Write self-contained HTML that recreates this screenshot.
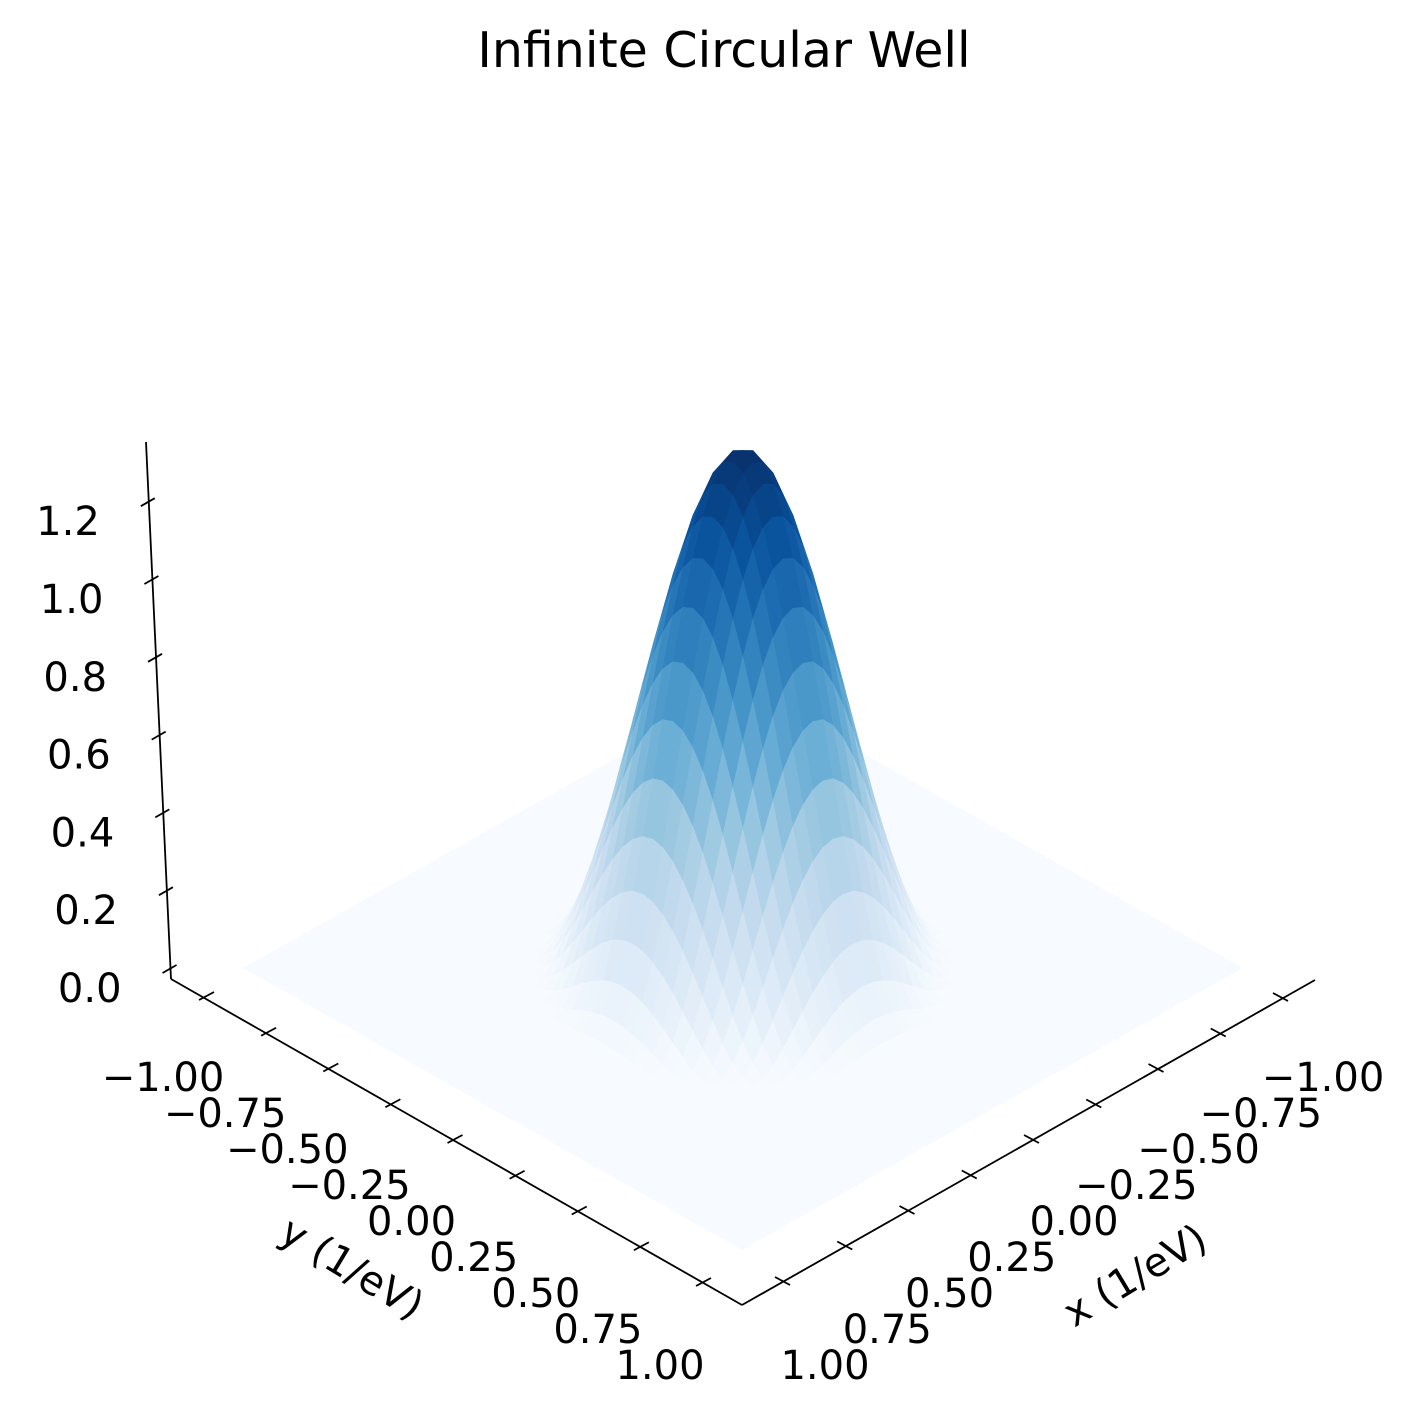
<!DOCTYPE html>
<html><head><meta charset="utf-8"><style>
html,body{margin:0;padding:0;background:#fff}
svg text{font-family:"DejaVu Sans","Liberation Sans",sans-serif;fill:#000}
</style></head><body>
<svg id="chart" width="1415" height="1420" viewBox="0 0 1415 1420" xmlns="http://www.w3.org/2000/svg">
<text x="724" y="67" font-size="49" text-anchor="middle">Infinite Circular Well</text>
<g id="floor"></g>
<g id="surf"></g>
<g id="axes"></g>
<text font-size="40" text-anchor="middle" transform="translate(345,1280) rotate(31)">y (1/eV)</text>
<text font-size="40" text-anchor="middle" transform="translate(1142,1287) rotate(-31)">x (1/eV)</text>
</svg>
<script>
const xTicks=[-1,-0.75,-0.5,-0.25,0,0.25,0.5,0.75,1];
const xTickLabels=["\u22121.00","\u22120.75","\u22120.50","\u22120.25","0.00","0.25","0.50","0.75","1.00"];
const yTicks=[-1,-0.75,-0.5,-0.25,0,0.25,0.5,0.75,1];
const yTickLabels=["\u22121.00","\u22120.75","\u22120.50","\u22120.25","0.00","0.25","0.50","0.75","1.00"];
const zTicks=[0,0.2,0.4,0.6,0.8,1.0,1.2];
const zTickLabels=["0.0","0.2","0.4","0.6","0.8","1.0","1.2"];
const peakHeight=[1.33];
const wellRadius=[0.58];
const shapePower=[1.6];
const gridCount=[51];

const NS="http://www.w3.org/2000/svg";
function el(tag,attrs,parent){const e=document.createElementNS(NS,tag);for(const k in attrs)e.setAttribute(k,attrs[k]);parent.appendChild(e);return e;}
const C=[743,968],EX=[-250.5,141],EY=[249.5,141],EZ=[0,-389];
function P(x,y,z){return [C[0]+x*EX[0]+y*EY[0]+z*EZ[0],C[1]+x*EX[1]+y*EY[1]+z*EZ[1]];}
function J0(x){let s=0,t=1;for(let k=0;k<40;k++){s+=t;t*=-(x*x/4)/((k+1)*(k+1));}return s;}
function f(x,y){const r=Math.hypot(x,y);const R=wellRadius[0];if(r>=R)return 0;const j=Math.max(0,J0(2.405*r/R));return peakHeight[0]*Math.pow(j,shapePower[0]);}
const stops=[[247,251,255],[222,235,247],[198,219,239],[158,202,225],[107,174,214],[66,146,198],[33,113,181],[8,81,156],[8,48,107]];
function cmap(v){v=Math.max(0,Math.min(1,v));const p=v*8,i=Math.min(7,Math.floor(p)),t=p-i;const a=stops[i],b=stops[i+1];return `rgb(${Math.round(a[0]+(b[0]-a[0])*t)},${Math.round(a[1]+(b[1]-a[1])*t)},${Math.round(a[2]+(b[2]-a[2])*t)})`;}
const floor=document.getElementById('floor');
const fp=[P(-1,-1,0),P(1,-1,0),P(1,1,0),P(-1,1,0)];
const fl=el('polygon',{points:fp.map(p=>p.join(',')).join(' '),fill:'#f7fbff'},floor);


const surf=document.getElementById('surf');
const N=gridCount[0],step=2/(N-1);
const quads=[];
for(let i=0;i<N-1;i++)for(let j=0;j<N-1;j++){
 const x0=-1+i*step,x1=x0+step,y0=-1+j*step,y1=y0+step;
 const zs=[f(x0,y0),f(x1,y0),f(x1,y1),f(x0,y1)];
 if(Math.max(...zs)<=0)continue;
 quads.push({x0,x1,y0,y1,zs,d:x0+x1+y0+y1});
}
quads.sort((a,b)=>a.d-b.d);
for(const q of quads){
 const pts=[P(q.x0,q.y0,q.zs[0]),P(q.x1,q.y0,q.zs[1]),P(q.x1,q.y1,q.zs[2]),P(q.x0,q.y1,q.zs[3])];
 const zm=(q.zs[0]+q.zs[1]+q.zs[2]+q.zs[3])/4;
 const c=cmap(zm/peakHeight[0]);
 const poly=el('polygon',{points:pts.map(p=>p[0].toFixed(1)+','+p[1].toFixed(1)).join(' '),fill:c,stroke:c,'stroke-width':0.6},surf);
 
 
}
const ax=document.getElementById('axes');
function line(a,b,name){const l=el('line',{x1:a[0],y1:a[1],x2:b[0],y2:b[1],stroke:'#000','stroke-width':1.8},ax);return l;}
function txt(x,y,s,name,anchor){const t=el('text',{x:x,y:y,'font-size':40,'text-anchor':anchor||'middle'},ax);t.textContent=s;return t;}
line([171,979],[742,1305],'y-axis-line');
const yT0=[205,997],yT1=[702,1283];
yTicks.forEach((v,k)=>{const t=(v+1)/2;const p=[yT0[0]+(yT1[0]-yT0[0])*t,yT0[1]+(yT1[1]-yT0[1])*t];
 line([p[0]-6,p[1]+3],[p[0]+9,p[1]-5],'y-tick');
 txt(163+(660-163)*t,1091+(1379-1091)*t,yTickLabels[k],'y-tick-label');});
line([742,1305],[1315,980],'x-axis-line');
const xT0=[1282,998],xT1=[784,1282];
xTicks.forEach((v,k)=>{const t=(v+1)/2;const p=[xT0[0]+(xT1[0]-xT0[0])*t,xT0[1]+(xT1[1]-xT0[1])*t];
 line([p[0]+6,p[1]+3],[p[0]-9,p[1]-5],'x-tick');
 txt(1323+(825-1323)*t,1091+(1379-1091)*t,xTickLabels[k],'x-tick-label');});
line([146,442],[171,979],'z-axis-line');
zTicks.forEach((v,k)=>{const y=969-v*389;const xp=146+(171-146)*(y-442)/(979-442);
 line([xp-8,y+4],[xp+6,y-4],'z-tick');
 txt(xp-49,y+33,zTickLabels[k],'z-tick-label','end');});
</script>
</body></html>
